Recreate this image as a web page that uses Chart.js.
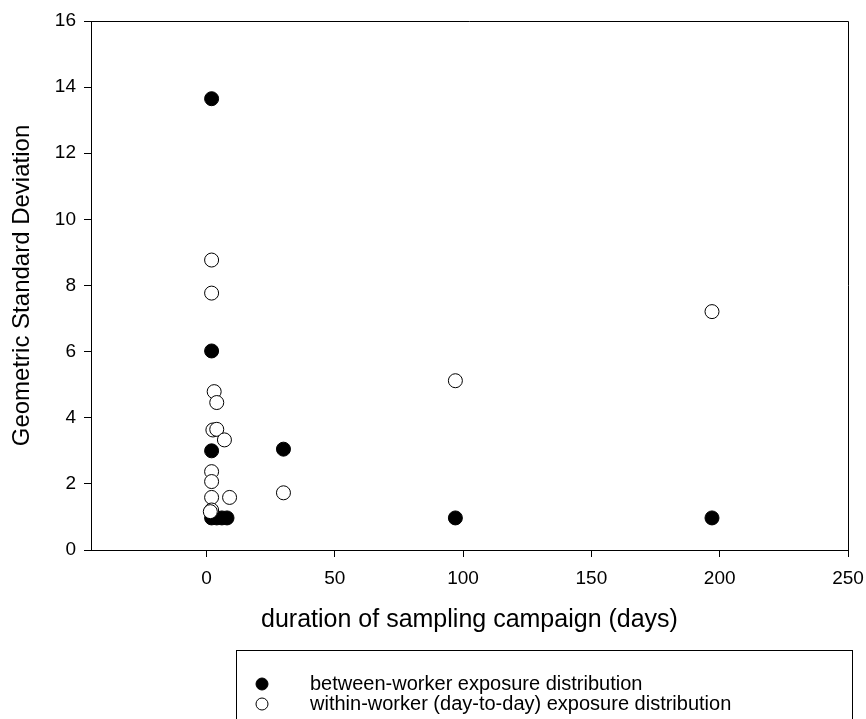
<!DOCTYPE html>
<html>
<head>
<meta charset="utf-8">
<script src="https://cdn.jsdelivr.net/npm/chart.js@4.4.1/dist/chart.umd.min.js"></script>
<style>
    html, body { margin: 0; padding: 0; background: #fff; }
    #wrap { width: 866px; height: 719px; }
</style>
</head>
<body>
<div id="wrap"><canvas id="gsdChart" width="866" height="719"></canvas></div>
<script>
const FONT = '"Liberation Sans", Arial, Helvetica, sans-serif';

// between-worker: duration (days) / GSD
const betweenDays = [2, 2, 2, 30, 2, 4, 6, 8, 97, 197];
const betweenGsd = [13.65, 6.02, 3.0, 3.05, 0.97, 0.97, 0.97, 0.97, 0.97, 0.97];

// within-worker (day-to-day): duration (days) / GSD
const withinDays = [2, 2, 3, 4, 2.5, 4, 7, 2, 2, 2, 9, 2, 1.5, 30, 97, 197];
const withinGsd = [8.77, 7.77, 4.79, 4.46, 3.63, 3.65, 3.33, 2.37, 2.07, 1.59, 1.59, 1.21, 1.16, 1.73, 5.12, 7.21];

const xTicks = [0, 50, 100, 150, 200, 250];
const yTicks = [0, 2, 4, 6, 8, 10, 12, 14, 16];

const labels = [
    'between-worker exposure distribution',
    'within-worker (day-to-day) exposure distribution'
];

function toPoints(xs, ys) {
    return xs.map((x, i) => ({ x: x, y: ys[i] }));
}

// box round the plot area (top and right sides)
const frame = {
    id: 'frame',
    beforeDatasetsDraw(chart) {
        const { ctx, chartArea: a } = chart;
        ctx.save();
        ctx.strokeStyle = '#000';
        ctx.lineWidth = 1;
        ctx.beginPath();
        ctx.moveTo(a.left, a.top + 0.5);
        ctx.lineTo(a.right + 0.5, a.top + 0.5);
        ctx.lineTo(a.right + 0.5, a.bottom);
        ctx.stroke();
        ctx.restore();
    }
};

// legend box under the chart
const boxLegend = {
    id: 'boxLegend',
    afterDraw(chart) {
        const ctx = chart.ctx;
        ctx.save();
        ctx.strokeStyle = '#000';
        ctx.lineWidth = 1;
        ctx.strokeRect(236.5, 650.5, 616, 100);
        ctx.font = '20px ' + FONT;
        ctx.textBaseline = 'middle';
        chart.data.datasets.forEach((ds, i) => {
            const y = 684 + i * 20;
            ctx.beginPath();
            ctx.arc(262, y, 6, 0, Math.PI * 2);
            ctx.fillStyle = ds.backgroundColor;
            ctx.fill();
            ctx.strokeStyle = ds.borderColor;
            ctx.stroke();
            ctx.fillStyle = '#000';
            ctx.fillText(ds.label, 310, y);
        });
        ctx.restore();
    }
};

let charts = {};

function initCharts() {
    const ctx = document.getElementById('gsdChart');
    charts.gsd = new Chart(ctx, {
        type: 'scatter',
        data: {
            datasets: [{
                label: labels[0],
                data: toPoints(betweenDays, betweenGsd),
                backgroundColor: '#000',
                borderColor: '#000',
                borderWidth: 1,
                pointRadius: 7,
                order: 1
            }, {
                label: labels[1],
                data: toPoints(withinDays, withinGsd),
                backgroundColor: '#fff',
                borderColor: '#000',
                borderWidth: 1,
                pointRadius: 7,
                order: 0
            }]
        },
        options: {
            responsive: false,
            animation: false,
            layout: {
                padding: { left: 0, top: 21, right: 18, bottom: 79 }
            },
            plugins: {
                legend: { display: false },
                tooltip: { enabled: false }
            },
            scales: {
                x: {
                    type: 'linear',
                    min: -45,
                    max: 250,
                    afterBuildTicks(scale) {
                        scale.ticks = xTicks.map(v => ({ value: v }));
                    },
                    afterFit(scale) {
                        scale.height = 90;
                        scale.paddingLeft = 0;
                        scale.paddingRight = 0;
                    },
                    grid: {
                        drawOnChartArea: false,
                        drawTicks: true,
                        tickLength: 7,
                        color: '#000'
                    },
                    border: { display: true, color: '#000' },
                    ticks: {
                        color: '#000',
                        padding: 10,
                        font: { family: FONT, size: 19 }
                    },
                    title: {
                        display: true,
                        text: 'duration of sampling campaign (days)',
                        color: '#000',
                        padding: { bottom: 5 },
                        font: { family: FONT, size: 25 }
                    }
                },
                y: {
                    min: 0,
                    max: 16,
                    afterBuildTicks(scale) {
                        scale.ticks = yTicks.map(v => ({ value: v }));
                    },
                    afterFit(scale) {
                        scale.width = 91;
                        scale.paddingTop = 0;
                        scale.paddingBottom = 0;
                    },
                    grid: {
                        drawOnChartArea: false,
                        drawTicks: true,
                        tickLength: 7,
                        color: '#000'
                    },
                    border: { display: true, color: '#000' },
                    ticks: {
                        color: '#000',
                        padding: 8,
                        font: { family: FONT, size: 19 }
                    },
                    title: {
                        display: true,
                        text: 'Geometric Standard Deviation',
                        color: '#000',
                        padding: { top: 8 },
                        font: { family: FONT, size: 24 }
                    }
                }
            }
        },
        plugins: [frame, boxLegend]
    });
}

initCharts();
</script>
</body>
</html>
